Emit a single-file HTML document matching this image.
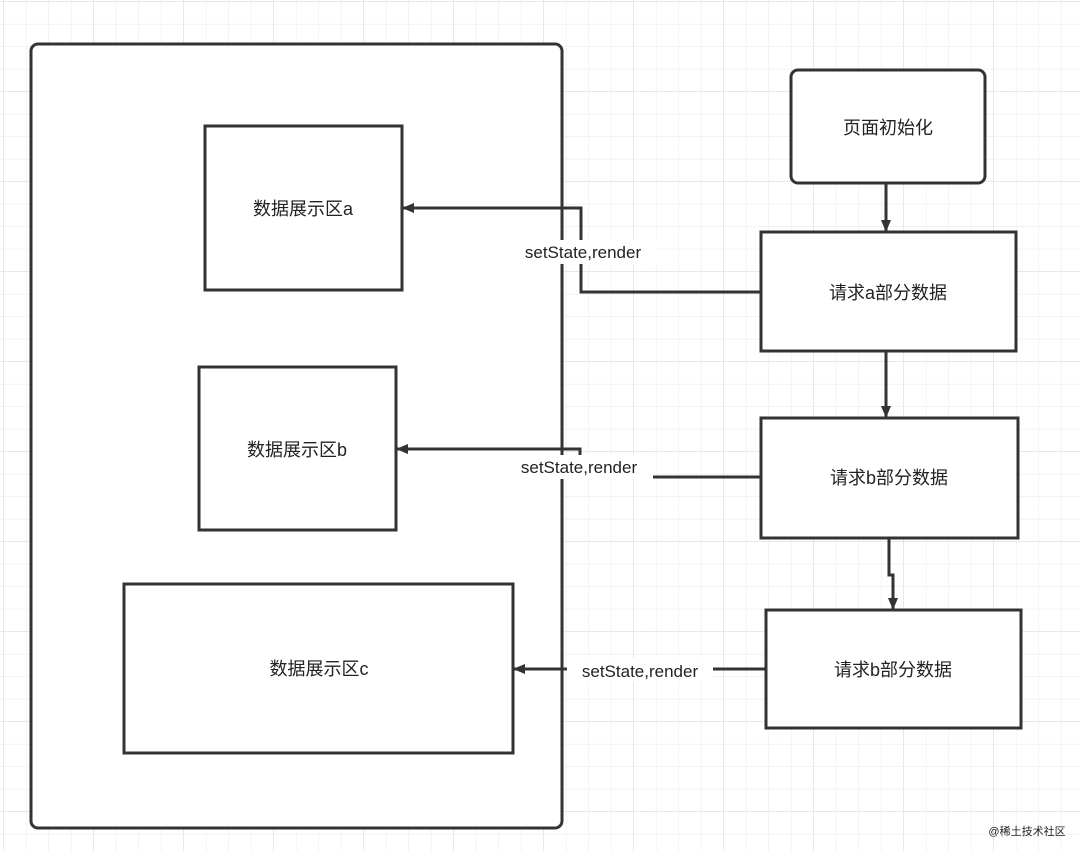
<!DOCTYPE html>
<html><head><meta charset="utf-8"><style>
html,body{margin:0;padding:0;background:#fff;}
svg{display:block;}
text{font-family:"Liberation Sans","Noto Sans CJK SC",sans-serif;fill:#222;}
</style></head><body>
<svg width="1080" height="851" viewBox="0 0 1080 851" xmlns="http://www.w3.org/2000/svg">
<defs>
<pattern id="g" width="22.5" height="22.5" patternUnits="userSpaceOnUse" x="4" y="2">
<path d="M22.5 0V22.5M0 22.5H22.5" stroke="#ececec" stroke-width="1.2" fill="none"/>
</pattern>
<pattern id="G" width="90" height="90" patternUnits="userSpaceOnUse" x="4" y="2">
<path d="M90 0V90M0 90H90" stroke="#e2e2e2" stroke-width="1.5" fill="none"/>
</pattern>
<marker id="ar" markerWidth="12" markerHeight="10" refX="11" refY="5" orient="auto" markerUnits="userSpaceOnUse">
<path d="M0 0L12 5L0 10Z" fill="#333"/>
</marker>
</defs>
<rect width="1080" height="851" fill="#fff"/>
<rect width="1080" height="851" fill="url(#g)"/>
<rect width="1080" height="851" fill="url(#G)"/>
<g stroke="#333" stroke-width="3" fill="#fff">
<rect x="31" y="44" width="531" height="784" rx="7"/>
<rect x="205" y="126" width="197" height="164"/>
<rect x="199" y="367" width="197" height="163"/>
<rect x="124" y="584" width="389" height="169"/>
<rect x="791" y="70" width="194" height="113" rx="7"/>
<rect x="761" y="232" width="255" height="119"/>
<rect x="761" y="418" width="257" height="120"/>
<rect x="766" y="610" width="255" height="118"/>
</g>
<g stroke="#333" stroke-width="3" fill="none">
<path d="M886 183V231" marker-end="url(#ar)"/>
<path d="M886 351V417" marker-end="url(#ar)"/>
<path d="M889 538V575H893V609" marker-end="url(#ar)"/>
<path d="M761 292H581V208H403" marker-end="url(#ar)"/>
<path d="M761 477H580V449H397" marker-end="url(#ar)"/>
<path d="M766 669H514" marker-end="url(#ar)"/>
</g>
<g fill="#fff">
<rect x="509" y="240" width="148" height="24"/>
<rect x="505" y="455" width="148" height="24"/>
<rect x="567" y="658" width="146" height="24"/>
</g>
<g font-size="17" text-anchor="middle">
<text x="583" y="258">setState,render</text>
<text x="579" y="473">setState,render</text>
<text x="640" y="677">setState,render</text>
</g>
<g font-size="18" text-anchor="middle">
<text x="303" y="215">数据展示区a</text>
<text x="297" y="456">数据展示区b</text>
<text x="319" y="675">数据展示区c</text>
<text x="888" y="134">页面初始化</text>
<text x="888" y="299">请求a部分数据</text>
<text x="889" y="484">请求b部分数据</text>
<text x="893" y="676">请求b部分数据</text>
</g>
<text x="1027" y="835" font-size="11" text-anchor="middle" fill="#666">@稀土技术社区</text>
</svg>
</body></html>
